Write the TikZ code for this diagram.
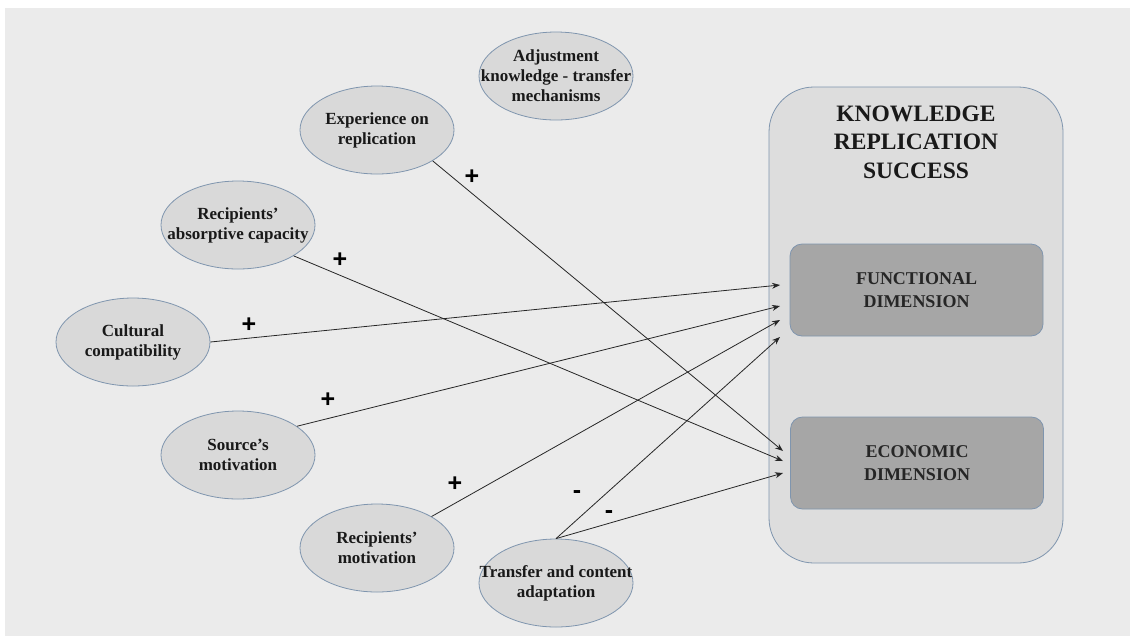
\documentclass[tikz,border=0pt]{standalone}
\usepackage{fontspec}
\setmainfont{Liberation Serif}
\newfontfamily\plusfont{Liberation Sans}
\usetikzlibrary{shapes.geometric,arrows.meta}
\definecolor{bgc}{HTML}{EBEBEB}
\definecolor{ellfill}{HTML}{D9D9D9}
\definecolor{edgec}{HTML}{7F95AE}
\definecolor{boxfill}{HTML}{DDDDDD}
\definecolor{dimfill}{HTML}{A6A6A6}
\begin{document}
\begin{tikzpicture}[x=1pt,y=-1pt,
 ftext/.style={align=center,inner sep=0pt,text=black!90,font=\fontsize{17}{20}\selectfont\bfseries},
 factor/.style={ellipse,draw=edgec,fill=ellfill,line width=0.8pt,minimum width=154pt,minimum height=88pt,inner sep=0pt,label={[ftext]center:#1}},
 dimbox/.style={rectangle,rounded corners=12pt,draw=edgec,fill=dimfill,line width=0.8pt,minimum width=253pt,minimum height=92pt,align=center,text=black!85,font=\fontsize{18}{23}\selectfont\bfseries},
 link/.style={draw=black!85,line width=0.8pt,-{Stealth[length=8pt,width=6pt]}},
 sign/.style={font=\plusfont\bfseries\fontsize{25}{25}\selectfont}]
\useasboundingbox (0,0) rectangle (1134,641);
\fill[white] (0,0) rectangle (1134,641);
\fill[bgc] (5,8) rectangle (1130,636);
\node[draw=edgec,fill=boxfill,line width=0.8pt,rounded corners=45pt,minimum width=294pt,minimum height=476pt] (outer) at (916,325) {};
\node[font=\fontsize{23.5}{28.5}\selectfont\bfseries,align=center,text=black!90] (title) at (916,142) {KNOWLEDGE\\REPLICATION\\SUCCESS};
\node[dimbox] (func) at (916.5,290) {FUNCTIONAL\\DIMENSION};
\node[dimbox] (econ) at (917,463) {ECONOMIC\\DIMENSION};
\node[factor={Adjustment\\knowledge - transfer\\mechanisms}] (adj) at (556,76) {};
\node[factor={Experience on\\replication}] (exp) at (377,130) {};
\node[factor={Recipients'\\absorptive capacity}] (abs) at (238,225) {};
\node[factor={Cultural\\compatibility}] (cult) at (133,342) {};
\node[factor={Source's\\motivation}] (src) at (238,455) {};
\node[factor={Recipients'\\motivation}] (rmot) at (377,548) {};
\node[factor={Transfer and content\\adaptation}] (trans) at (556,583) {};
\coordinate (f1) at (780,285);
\coordinate (f2) at (780,306);
\coordinate (f3) at (780,320);
\coordinate (f4) at (780,337);
\coordinate (e1) at (783,451);
\coordinate (e2) at (783,461);
\coordinate (e3) at (783,473);
\draw[link] (exp.-29) -- (e1);
\draw[link] (abs.-29) -- (e2);
\draw[link] (cult.0) -- (f1);
\draw[link] (src.26) -- (f2);
\draw[link] (rmot.30) -- (f3);
\draw[link] (trans.90) -- (f4);
\draw[link] (trans.90) -- (e3);
\node[sign] (s1) at (472,177) {+};
\node[sign] (s2) at (340,260) {+};
\node[sign] (s3) at (249,325) {+};
\node[sign] (s4) at (328,400) {+};
\node[sign] (s5) at (455,484) {+};
\node[sign] (s6) at (577,495) {-};
\node[sign] (s7) at (609,515) {-};
\end{tikzpicture}
\end{document}
